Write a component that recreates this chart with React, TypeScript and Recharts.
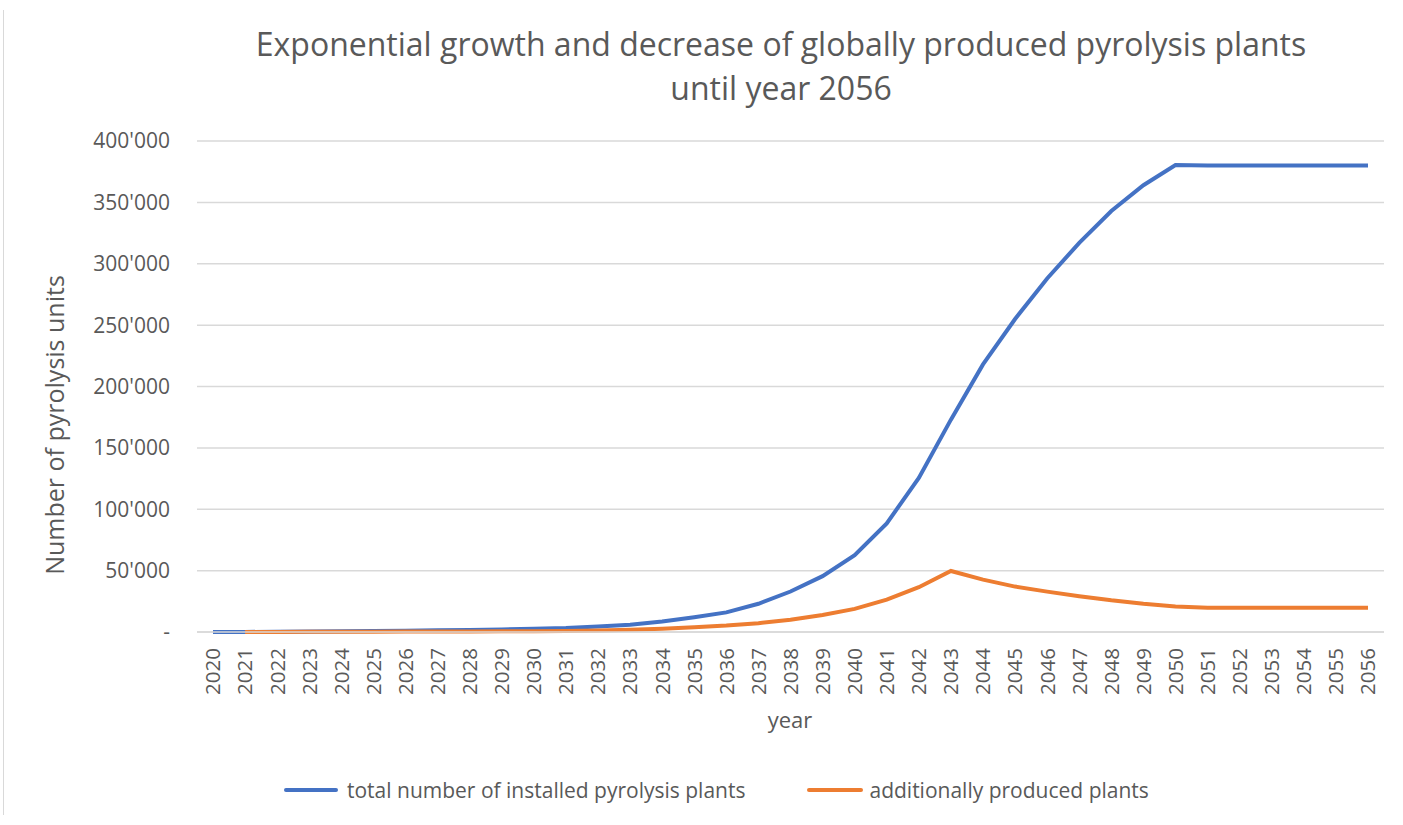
import React from "react";
import { LineChart, Line, XAxis, YAxis, CartesianGrid } from "recharts";

const years = [
  "2020","2021","2022","2023","2024","2025","2026","2027","2028","2029",
  "2030","2031","2032","2033","2034","2035","2036","2037","2038","2039",
  "2040","2041","2042","2043","2044","2045","2046","2047","2048","2049",
  "2050","2051","2052","2053","2054","2055","2056",
];

const totalInstalled = [
  0, 0, 300, 500, 700, 900, 1100, 1400, 1700, 2100,
  2700, 3300, 4500, 6000, 8500, 12000, 16000, 23000, 33000, 45500,
  62500, 88500, 125500, 173000, 218000, 255000, 288000, 317000, 343000, 364000,
  380500, 380000, 380000, 380000, 380000, 380000, 380000,
];

const additionallyProduced = [
  null, 0, 100, 200, 250, 300, 350, 400, 500, 600,
  700, 900, 1300, 1800, 2700, 3900, 5200, 7200, 10000, 13800,
  18800, 26400, 36500, 49700, 42700, 37000, 32900, 29200, 25800, 23000,
  20800, 19700, 19700, 19700, 19700, 19700, 19700,
];

const yTicks = [0, 50000, 100000, 150000, 200000, 250000, 300000, 350000, 400000];

const seriesNames = ["total number of installed pyrolysis plants", "additionally produced plants"];
const seriesColors = ["#4472C4", "#ED7D31"];

const data = years.map((y, i) => ({
  year: y,
  total: totalInstalled[i],
  added: additionallyProduced[i],
}));

const FONT = "'Open Sans', sans-serif";
const TEXT = "#595959";

const fmt = (v: number) => (v === 0 ? "-" : String(v).replace(/\B(?=(\d{3})+(?!\d))/g, "'"));

const XTick = (props: any) => {
  const { x, y, payload } = props;
  return (
    <text
      x={x}
      y={y}
      transform={`rotate(-90, ${x}, ${y})`}
      textAnchor="end"
      dy="0.36em"
      fill={TEXT}
      fontSize={20.5}
      fontFamily={FONT}
    >
      {payload.value}
    </text>
  );
};

export default function App() {
  return (
    <div style={{ position: "absolute", left: 0, top: 0, width: 1403, height: 825, background: "#fff", fontFamily: FONT }}>
      <div style={{ position: "absolute", left: 3, top: 10, width: 1, height: 805, background: "#d9d9d9" }} />
      <div
        style={{
          position: "absolute",
          left: 0,
          top: 22,
          width: 1562,
          textAlign: "center",
          color: TEXT,
          fontSize: 32,
          lineHeight: "44px",
          whiteSpace: "nowrap",
        }}
      >
        Exponential growth and decrease of globally produced pyrolysis plants
        <br />
        until year 2056
      </div>
      <svg style={{ position: "absolute", left: 0, top: 0 }} width={120} height={825}>
        <text
          x={55}
          y={425}
          transform="rotate(-90, 55, 425)"
          textAnchor="middle"
          dy="0.36em"
          fill={TEXT}
          fontSize={25}
          fontFamily={FONT}
        >
          Number of pyrolysis units
        </text>
      </svg>
      <LineChart
        style={{ position: "absolute", left: 0, top: 0 }}
        width={1403}
        height={825}
        data={data}
        margin={{ top: 141, right: 19, bottom: 133, left: 0 }}
      >
        <CartesianGrid vertical={false} stroke="#d9d9d9" strokeWidth={1.5} />
        <XAxis
          dataKey="year"
          height={60}
          tick={<XTick />}
          tickLine={false}
          axisLine={{ stroke: "#d9d9d9", strokeWidth: 1.5 }}
          interval={0}
          padding={{ left: 16, right: 16 }}
          tickMargin={16}
          tickSize={0}
        />
        <YAxis
          width={197}
          domain={[0, 400000]}
          ticks={yTicks}
          tickFormatter={fmt}
          axisLine={false}
          tickLine={false}
          tickSize={0}
          tickMargin={27}
          tick={{ fill: TEXT, fontSize: 21, fontFamily: FONT }}
        />
        <Line
          type="linear"
          dataKey="total"
          name={seriesNames[0]}
          stroke={seriesColors[0]}
          strokeWidth={4}
          dot={false}
          isAnimationActive={false}
        />
        <Line
          type="linear"
          dataKey="added"
          name={seriesNames[1]}
          stroke={seriesColors[1]}
          strokeWidth={4}
          dot={false}
          isAnimationActive={false}
        />
      </LineChart>
      <div style={{ position: "absolute", left: 0, top: 704, width: 1580, textAlign: "center", color: TEXT, fontSize: 22 }}>
        year
      </div>
      <div style={{ position: "absolute", left: 284, top: 776, display: "flex", alignItems: "center", color: TEXT, fontSize: 21 }}>
        <span style={{ display: "inline-block", width: 54, height: 4, borderRadius: 2, background: seriesColors[0], marginRight: 9 }} />
        <span>{seriesNames[0]}</span>
        <span style={{ display: "inline-block", width: 56, height: 4, borderRadius: 2, background: seriesColors[1], marginLeft: 62, marginRight: 6 }} />
        <span>{seriesNames[1]}</span>
      </div>
    </div>
  );
}
